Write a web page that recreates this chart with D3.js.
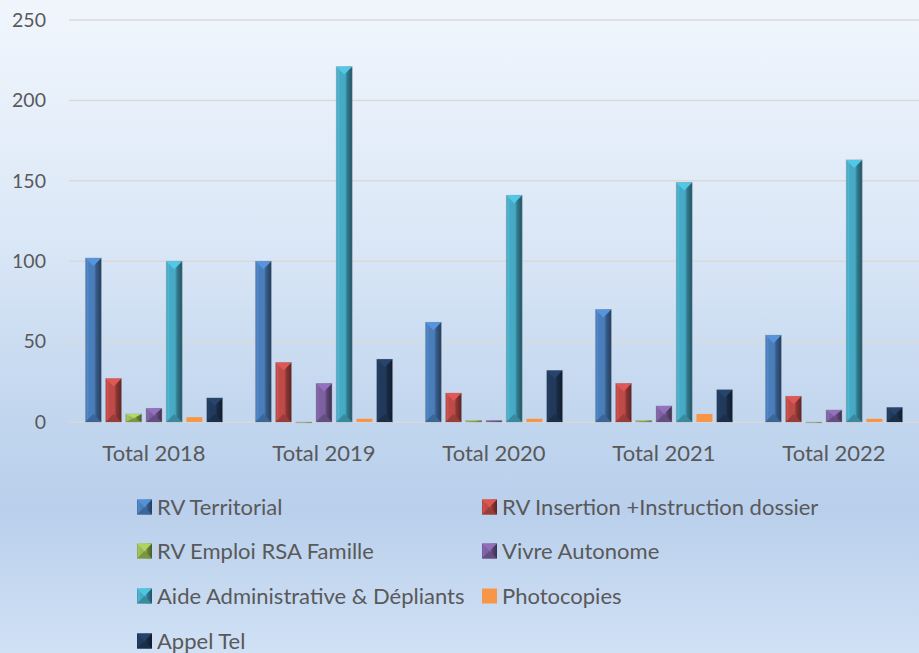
<!DOCTYPE html>
<html>
<head>
<meta charset="utf-8">
<script src="https://cdn.jsdelivr.net/npm/d3@7"></script>
<style>
  html, body { margin: 0; padding: 0; background: #fff; }
  svg { display: block; }
</style>
</head>
<body>
<svg id="chart" width="919" height="653"></svg>
<script>
// Yearly totals per type of service
const years = ["Total 2018", "Total 2019", "Total 2020", "Total 2021", "Total 2022"];
const seriesNames = [
  "RV Territorial",
  "RV Insertion +Instruction dossier",
  "RV Emploi RSA Famille",
  "Vivre Autonome",
  "Aide Administrative & Dépliants",
  "Photocopies",
  "Appel Tel"
];
const rvTerritorial   = [102, 100, 62, 70, 54];
const rvInsertion     = [27, 37, 18, 24, 16];
const rvEmploiRSA     = [5, 0, 1, 1, 0];
const vivreAutonome   = [8.5, 24, 1, 10, 7.5];
const aideAdmin       = [100, 221, 141, 149, 163];
const photocopies     = [3, 2, 2, 5, 2];
const appelTel        = [15, 39, 32, 20, 9];
const seriesValues = [rvTerritorial, rvInsertion, rvEmploiRSA, vivreAutonome, aideAdmin, photocopies, appelTel];
const yTicks = [0, 50, 100, 150, 200, 250];

const colors = ["#4a7ebb", "#be4b48", "#98b954", "#7d60a0", "#46aac5", "#f79646", "#213a5c"];
const flat = [false, false, false, false, false, true, false];

const svg = d3.select("#chart");
const W = 919, H = 653;
const font = "Lato, 'Open Sans', sans-serif";
const textColor = "#595959";

const defs = svg.append("defs");

// Background gradient
const bg = defs.append("linearGradient").attr("id", "bg").attr("x1", 0).attr("y1", 0).attr("x2", 0).attr("y2", 1);
bg.append("stop").attr("offset", "0%").attr("stop-color", "#f1f6fd");
bg.append("stop").attr("offset", "35%").attr("stop-color", "#dce8f7");
bg.append("stop").attr("offset", "62%").attr("stop-color", "#c3d7ef");
bg.append("stop").attr("offset", "78%").attr("stop-color", "#b9cfeb");
bg.append("stop").attr("offset", "100%").attr("stop-color", "#d0e1f5");
svg.append("rect").attr("width", W).attr("height", H).attr("fill", "url(#bg)");

// Per-series bevel gradients
colors.forEach((c, i) => {
  const base = d3.color(c);
  const g = defs.append("linearGradient").attr("id", "bar" + i)
    .attr("x1", 0).attr("y1", 0).attr("x2", 1).attr("y2", 0);
  g.append("stop").attr("offset", "0%").attr("stop-color", d3.color(c).darker(0.3));
  g.append("stop").attr("offset", "12%").attr("stop-color", base.brighter(0.25));
  g.append("stop").attr("offset", "22%").attr("stop-color", c);
  g.append("stop").attr("offset", "55%").attr("stop-color", c);
  g.append("stop").attr("offset", "68%").attr("stop-color", d3.color(c).darker(0.9));
  g.append("stop").attr("offset", "100%").attr("stop-color", d3.color(c).darker(2.0));
});

// Scales
const x0 = d3.scaleBand().domain(years).range([69, 919]).paddingInner(0).paddingOuter(0);
const x1 = d3.scaleBand().domain(d3.range(seriesNames.length)).range([0, x0.bandwidth()])
  .paddingInner(0.21).paddingOuter(0.81);
const y = d3.scaleLinear().domain([0, 250]).range([422, 20]);

// Gridlines
svg.append("g").selectAll("line").data(yTicks).join("line")
  .attr("x1", 69).attr("x2", W)
  .attr("y1", d => y(d)).attr("y2", d => y(d))
  .attr("stroke", "#d9d9d9").attr("stroke-width", 1.5);

// Y axis labels
const yAxis = d3.axisLeft(y).tickValues(yTicks).tickSize(0).tickPadding(0);
const ya = svg.append("g").attr("transform", "translate(46,0)").call(yAxis);
ya.select(".domain").remove();
ya.selectAll("text").attr("font-family", font).attr("font-size", 19.5).attr("fill", textColor);

// X axis labels
const xAxis = d3.axisBottom(x0).tickSize(0).tickPadding(0);
const xa = svg.append("g").attr("transform", "translate(0,445)").call(xAxis);
xa.select(".domain").remove();
xa.selectAll("text").attr("font-family", font).attr("font-size", 22).attr("fill", textColor);

// Bevelled bar shape
function drawBar(g, x, yTop, w, h, i) {
  if (flat[i]) {
    g.append("rect").attr("x", x).attr("y", yTop).attr("width", w).attr("height", Math.max(h, 0))
      .attr("fill", colors[i]);
    return;
  }
  g.append("rect").attr("x", x).attr("y", yTop).attr("width", w).attr("height", Math.max(h, 0.8))
    .attr("fill", "url(#bar" + i + ")")
    .attr("stroke", "rgba(150,160,175,0.55)").attr("stroke-width", 0.8);
  const b = Math.min(w / 2, h / 2);
  if (b > 0.5) {
    g.append("path")
      .attr("d", `M${x},${yTop}L${x + w},${yTop}L${x + w / 2},${yTop + b}Z`)
      .attr("fill", d3.color(colors[i]).brighter(0.45));
    g.append("path")
      .attr("d", `M${x},${yTop + h}L${x + w},${yTop + h}L${x + w / 2},${yTop + h - b}Z`)
      .attr("fill", d3.color(colors[i]).darker(0.6));
  }
}

// Bars
const groups = svg.append("g").selectAll("g").data(years).join("g")
  .attr("transform", d => `translate(${x0(d)},0)`);
groups.each(function(yr, gi) {
  const g = d3.select(this);
  seriesValues.forEach((vals, si) => {
    const v = vals[gi];
    const top = y(v);
    drawBar(g, x1(si), top, x1.bandwidth(), y(0) - top, si);
  });
});

// Legend
const legendX = [137, 482];
const legendY = [507, 551, 596, 641];
const leg = svg.append("g");
seriesNames.forEach((name, i) => {
  const lx = legendX[i % 2], ly = legendY[Math.floor(i / 2)];
  const g = leg.append("g");
  const s = 15;
  if (flat[i]) {
    g.append("rect").attr("x", lx).attr("y", ly - s / 2).attr("width", s).attr("height", s).attr("fill", colors[i]);
  } else {
    g.append("rect").attr("x", lx).attr("y", ly - s / 2).attr("width", s).attr("height", s).attr("fill", "url(#bar" + i + ")");
    g.append("path").attr("d", `M${lx},${ly - s / 2}L${lx + s},${ly - s / 2}L${lx + s / 2},${ly}Z`)
      .attr("fill", d3.color(colors[i]).brighter(0.4));
    g.append("path").attr("d", `M${lx},${ly + s / 2}L${lx + s},${ly + s / 2}L${lx + s / 2},${ly}Z`)
      .attr("fill", d3.color(colors[i]).darker(0.6));
  }
  g.append("text").attr("x", lx + 20).attr("y", ly).attr("dy", "0.35em")
    .attr("font-family", font).attr("font-size", 22).attr("fill", textColor).text(name);
});
</script>
</body>
</html>
